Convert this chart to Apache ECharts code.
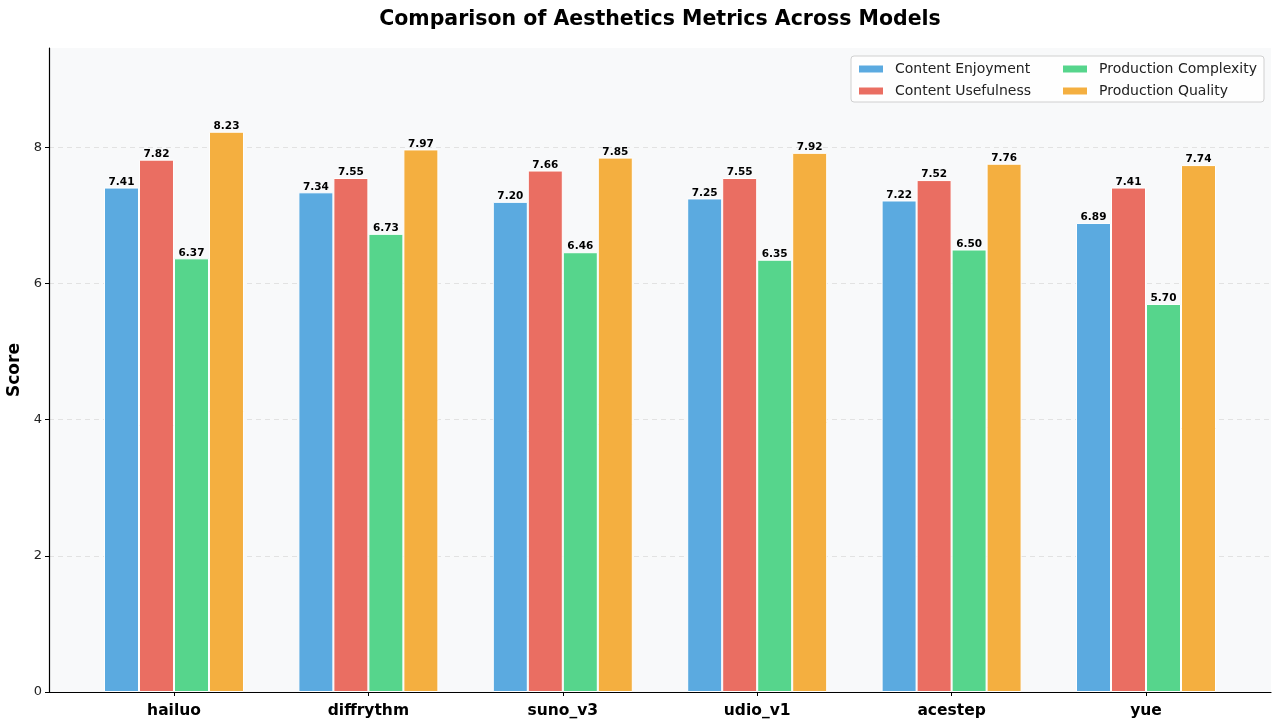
<!DOCTYPE html>
<html>
<head>
<meta charset="utf-8">
<title>Aesthetics Metrics</title>
<script src="https://cdn.jsdelivr.net/npm/echarts@6/dist/echarts.min.js"></script>
<style>
html, body { margin: 0; padding: 0; height: 100%; background: #ffffff; }
#main { width: 1280px; height: 727px; }
</style>
</head>
<body>
<div id="main"></div>
<script>
var models = ['hailuo', 'diffrythm', 'suno_v3', 'udio_v1', 'acestep', 'yue'];
var metricNames = ['Content Enjoyment', 'Content Usefulness', 'Production Complexity', 'Production Quality'];
var contentEnjoyment = [7.41, 7.34, 7.20, 7.25, 7.22, 6.89];
var contentUsefulness = [7.82, 7.55, 7.66, 7.55, 7.52, 7.41];
var productionComplexity = [6.37, 6.73, 6.46, 6.35, 6.50, 5.70];
var productionQuality = [8.23, 7.97, 7.85, 7.92, 7.76, 7.74];
var yTicks = [0, 2, 4, 6, 8];

var colors = ['#5baae0', '#ea6e62', '#56d58c', '#f4af40'];
var values = [contentEnjoyment, contentUsefulness, productionComplexity, productionQuality];
var font = 'DejaVu Sans';

var chart = echarts.init(document.getElementById('main'));

var series = values.map(function (vals, k) {
    return {
        name: metricNames[k],
        type: 'bar',
        barWidth: 35,
        barGap: '0%',
        itemStyle: { color: colors[k], borderColor: '#ffffff', borderWidth: 1 },
        label: {
            show: true,
            position: 'top',
            distance: 0,
            fontFamily: font,
            fontSize: 10.5,
            fontWeight: 'bold',
            color: '#000',
            formatter: function (p) { return p.value[1].toFixed(2); }
        },
        data: vals.map(function (v, i) { return [i, v]; })
    };
});

var legendBase = {
    orient: 'vertical',
    top: 62,
    itemWidth: 26, itemHeight: 9, itemGap: 8, padding: 0,
    icon: 'rect',
    textStyle: { fontFamily: font, fontSize: 14, color: '#222', padding: [0, 0, 0, 6] },
    z: 6
};

var option = {
    backgroundColor: '#ffffff',
    animation: false,
    title: {
        text: 'Comparison of Aesthetics Metrics Across Models',
        left: 660,
        textAlign: 'center',
        top: 9,
        padding: 0,
        textStyle: { fontFamily: font, fontSize: 20.5, fontWeight: 'bold', color: '#000' }
    },
    grid: {
        left: 49, right: 9, top: 48, bottom: 35,
        outerBoundsMode: 'none',
        containLabel: false,
        show: true, backgroundColor: '#f8f9fa', borderWidth: 0
    },
    graphic: [{
        type: 'rect',
        shape: { x: 851, y: 56, width: 413, height: 46, r: 3 },
        style: { fill: 'rgba(255,255,255,0.8)', stroke: '#d0d0d0', lineWidth: 1 },
        z: 5
    }],
    legend: [
        Object.assign({}, legendBase, { data: metricNames.slice(0, 2), left: 857 }),
        Object.assign({}, legendBase, { data: metricNames.slice(2), left: 1061 })
    ],
    xAxis: {
        type: 'value',
        min: -0.643,
        max: 5.643,
        splitLine: { show: false },
        axisLine: { show: true, onZero: false, lineStyle: { color: '#000', width: 1.2 } },
        axisTick: { show: true, length: 4, lineStyle: { color: '#000' }, customValues: [0, 1, 2, 3, 4, 5] },
        axisLabel: {
            customValues: [0, 1, 2, 3, 4, 5],
            fontFamily: font, fontSize: 15.5, fontWeight: 'bold', color: '#000', margin: 11,
            formatter: function (v) { return models[Math.round(v)]; }
        }
    },
    yAxis: {
        type: 'value',
        min: 0,
        max: 9.46,
        interval: 2,
        name: 'Score',
        nameLocation: 'middle',
        nameGap: 23,
        nameTextStyle: { fontFamily: font, fontSize: 17, fontWeight: 'bold', color: '#000' },
        axisLine: { show: true, onZero: false, lineStyle: { color: '#000', width: 1.2 } },
        axisTick: { show: true, length: 4, lineStyle: { color: '#000' } },
        axisLabel: {
            fontFamily: font, fontSize: 13, color: '#222', margin: 7,
            showMaxLabel: false,
            formatter: function (v) { return yTicks.indexOf(v) >= 0 ? String(v) : ''; }
        },
        splitLine: { show: true, showMaxLine: false, lineStyle: { color: '#dcdcdc', type: [5, 4], width: 0.8 } }
    },
    series: series
};
chart.setOption(option);
</script>
</body>
</html>
